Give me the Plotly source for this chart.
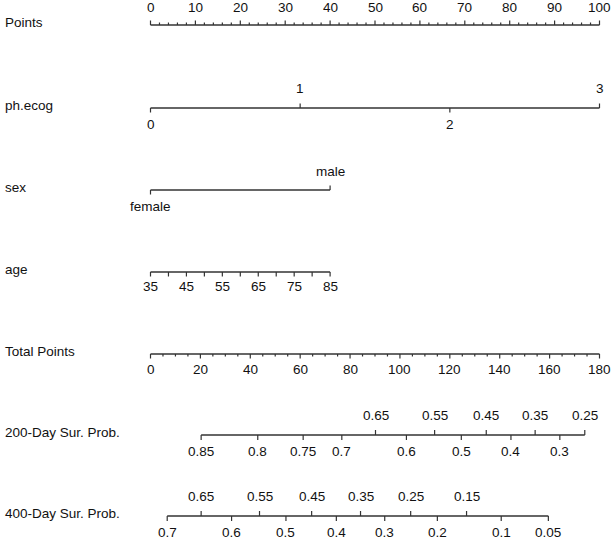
import plotly.graph_objects as go

# ---------------- data ----------------
points_max = 100
total_max = 180

points_labels = list(range(0, 101, 10))
points_minor = list(range(0, 101, 2))

ecog_levels = ["0", "1", "2", "3"]
ecog_points = [0, 33.33, 66.67, 100]

sex_levels = ["female", "male"]
sex_points = [0, 40]

age_values = [35, 40, 45, 50, 55, 60, 65, 70, 75, 80, 85]
age_points = [0, 4, 8, 12, 16, 20, 24, 28, 32, 36, 40]
age_labelled = [35, 45, 55, 65, 75, 85]

total_labels = list(range(0, 181, 20))
total_minor = list(range(0, 181, 5))

surv200_probs = ["0.85", "0.8", "0.75", "0.7", "0.65", "0.6", "0.55", "0.5",
                 "0.45", "0.4", "0.35", "0.3", "0.25"]
surv200_total = [20.3, 43.0, 61.2, 76.7, 90.2, 102.6, 113.9, 124.6,
                 134.6, 144.5, 154.2, 164.1, 174.1]
surv200_above = ["0.65", "0.55", "0.45", "0.35", "0.25"]

surv400_probs = ["0.7", "0.65", "0.6", "0.55", "0.5", "0.45", "0.4", "0.35",
                 "0.3", "0.25", "0.2", "0.15", "0.1", "0.05"]
surv400_total = [6.7, 20.3, 32.5, 43.7, 54.3, 64.6, 74.5, 84.2,
                 93.9, 104.3, 115.0, 126.7, 140.6, 159.5]
surv400_above = ["0.65", "0.55", "0.45", "0.35", "0.25", "0.15"]

row_names = ["Points", "ph.ecog", "sex", "age", "Total Points",
             "200-Day Sur. Prob.", "400-Day Sur. Prob."]

# ---------------- layout ----------------
W, H = 612, 540
row_y = [25, 108, 190, 272, 354, 435, 516]
name_dy = -3
LINE = "#333333"
TXT = "#111111"
FS = 13.5
FONT = "Liberation Sans, Arial, Helvetica, sans-serif"

px_per_pt = 4.49
x0_px = 150.5
r0 = -x0_px / px_per_pt
r1 = r0 + W / px_per_pt

fig = go.Figure()
annotations = []


def tot2pts(t):
    return t * points_max / total_max


def add_axis(y, xs_line, ticks, labels):
    """ticks: list of (x, direction, length); labels: list of (x, text, dy)"""
    fig.add_trace(go.Scatter(x=[min(xs_line), max(xs_line)], y=[y, y], mode="lines",
                             line=dict(color=LINE, width=1.3), hoverinfo="skip"))
    tx, ty = [], []
    for x, d, ln in ticks:
        tx += [x, x, None]
        ty += [y, y + d * ln, None]
    fig.add_trace(go.Scatter(x=tx, y=ty, mode="lines",
                             line=dict(color=LINE, width=1.2), hoverinfo="skip"))
    for x, t, dy in labels:
        annotations.append(dict(x=x, y=y + dy, xref="x", yref="y", text=t,
                                showarrow=False, xanchor="center", yanchor="middle",
                                font=dict(size=FS, color=TXT, family=FONT)))


# Points
y = row_y[0]
ticks = [(p, -1, 4.5 if p % 10 == 0 else 2.5) for p in points_minor]
labels = [(p, str(p), -18) for p in points_labels]
add_axis(y, [0, points_max], ticks, labels)

# ph.ecog
y = row_y[1]
ticks, labels = [], []
for i, (lv, p) in enumerate(zip(ecog_levels, ecog_points)):
    d = 1 if i % 2 == 0 else -1
    ticks.append((p, d, 4.5))
    labels.append((p, lv, 16 if d == 1 else -20))
add_axis(y, ecog_points, ticks, labels)

# sex
y = row_y[2]
ticks, labels = [], []
for i, (lv, p) in enumerate(zip(sex_levels, sex_points)):
    d = 1 if i % 2 == 0 else -1
    ticks.append((p, d, 4.5))
    labels.append((p, lv, 16 if d == 1 else -19))
add_axis(y, sex_points, ticks, labels)

# age
y = row_y[3]
ticks = [(p, 1, 4.5) for p in age_points]
labels = [(p, str(a), 14.5) for a, p in zip(age_values, age_points) if a in age_labelled]
add_axis(y, age_points, ticks, labels)

# Total points
y = row_y[4]
ticks = [(tot2pts(t), 1, 4.5 if t % 20 == 0 else 2.5) for t in total_minor]
labels = [(tot2pts(t), str(t), 15) for t in total_labels]
add_axis(y, [0, tot2pts(total_max)], ticks, labels)

# survival rows
for y, probs, tots, above in [(row_y[5], surv200_probs, surv200_total, surv200_above),
                              (row_y[6], surv400_probs, surv400_total, surv400_above)]:
    ticks, labels = [], []
    for pr, t in zip(probs, tots):
        x = tot2pts(t)
        if pr in above:
            ticks.append((x, -1, 5))
            labels.append((x, pr, -20))
        else:
            ticks.append((x, 1, 5))
            labels.append((x, pr, 16))
    add_axis(y, [tot2pts(min(tots)), tot2pts(max(tots))], ticks, labels)

# row names
for name, y in zip(row_names, row_y):
    annotations.append(dict(x=3 / W, y=y + name_dy, xref="paper", yref="y",
                            text=name, showarrow=False, xanchor="left",
                            yanchor="middle",
                            font=dict(size=FS, color=TXT, family=FONT)))

fig.update_layout(
    width=W, height=H,
    margin=dict(l=0, r=0, t=0, b=0),
    paper_bgcolor="white", plot_bgcolor="white",
    showlegend=False,
    xaxis=dict(range=[r0, r1], visible=False, fixedrange=True),
    yaxis=dict(range=[H, 0], visible=False, fixedrange=True),
    annotations=annotations,
)

fig.write_html(
    "out.html",
    config={"displayModeBar": False},
    post_script="document.body.style.margin='0';document.body.style.overflow='hidden';",
)
